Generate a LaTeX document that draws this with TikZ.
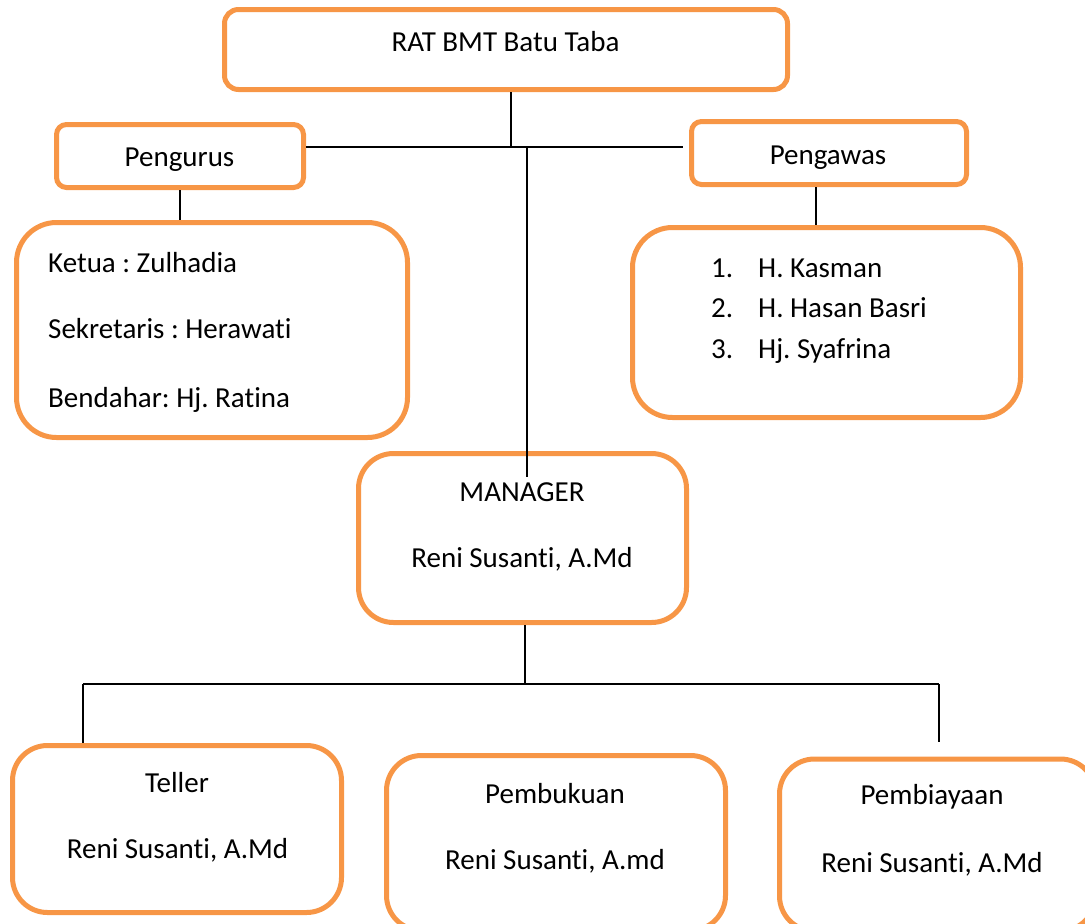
\documentclass[tikz,border=0pt]{standalone}
\usepackage{fontspec}
\setmainfont{Carlito}[Ligatures=NoCommon]
\definecolor{boxorange}{HTML}{F79646}
\frenchspacing
\begin{document}
\begin{tikzpicture}[x=1pt,y=-1pt,
  box/.style={draw=boxorange, line width=5pt, fill=white, rounded corners=#1, inner sep=0pt},
  box/.default=12pt,
  txt/.style={font=\fontsize{29}{34}\selectfont, inner sep=0pt, anchor=base},
  ltxt/.style={font=\fontsize{29}{34}\selectfont, inner sep=0pt, anchor=base west},
  conn/.style={line width=1.3pt, black},
  hconn/.style={line width=1.8pt, black}]
\useasboundingbox (0,0) rectangle (1085,924);
\clip (0,0) rectangle (1085,924);

% boxes
\node[box=14pt, minimum width=563, minimum height=80] (rat) at (506,49.5) {};
\node[box=10pt, minimum width=247, minimum height=63] (pengurus) at (180,156) {};
\node[box=10pt, minimum width=275, minimum height=63] (pengawas) at (829,153) {};
\node[box=40pt, minimum width=391, minimum height=215] (plist) at (212,330) {};
\node[box=40pt, minimum width=388, minimum height=190] (wlist) at (826.5,322.5) {};
\node[box=35pt, minimum width=328, minimum height=169] (mgr) at (522.5,538) {};
\node[box=35pt, minimum width=329, minimum height=167] (teller) at (177,829) {};
\node[box=35pt, minimum width=339, minimum height=175] (bukuan) at (556,843) {};
\node[box=35pt, minimum width=316, minimum height=172] (biaya) at (937.5,845) {};

% texts
\node[txt] (trat) at (505.5,51) {RAT BMT Batu Taba};
\node[txt] (tpengurus) at (179.5,166) {Pengurus};
\node[txt] (tpengawas) at (828,164) {Pengawas};
\node[ltxt] (tketua) at (48,272) {Ketua : Zulhadia};
\node[ltxt] (tsekr) at (48,338) {Sekretaris : Herawati};
\node[ltxt] (tbend) at (48,407) {Bendahar: Hj. Ratina};
\node[ltxt] (n1) at (711,277) {1.};
\node[ltxt] (n2) at (711,317) {2.};
\node[ltxt] (n3) at (711,358) {3.};
\node[ltxt] (w1) at (758,277) {H. Kasman};
\node[ltxt] (w2) at (758,317) {H. Hasan Basri};
\node[ltxt] (w3) at (758,358) {Hj. Syafrina};
\node[txt] (tmgr) at (522,501) {MANAGER};
\node[txt] (tmgrn) at (522,567) {Reni Susanti, A.Md};
\node[txt] (tteller) at (177,792) {Teller};
\node[txt] (ttellern) at (177.5,858) {Reni Susanti, A.Md};
\node[txt] (tbuk) at (555,803) {Pembukuan};
\node[txt] (tbukn) at (555,869) {Reni Susanti, A.md};
\node[txt] (tbia) at (932,804) {Pembiayaan};
\node[txt] (tbian) at (932,872) {Reni Susanti, A.Md};

% junctions
\coordinate (j1) at (511,147);
\coordinate (j2) at (527,147);
\coordinate (mgrin) at (527,477);
\coordinate (j3) at (525,684);
\coordinate (jl) at (83,684);
\coordinate (jr) at (939,684);
\coordinate (rend) at (939,742);

% connectors
\draw[conn] ([xshift=5pt]rat.south) -- (j1);
\draw[hconn] (pengurus.east |- j1) -- ([xshift=-6pt]pengawas.west |- j1);
\draw[conn] (j2) -- (mgrin);
\draw[conn] (pengurus.south) -- (pengurus.south |- plist.north);
\draw[conn] ([xshift=-13pt]pengawas.south) -- ([xshift=-13pt]pengawas.south |- wlist.north);
\draw[conn] ([xshift=2.5pt]mgr.south) -- (j3);
\draw[hconn] (jl) -- (jr);
\draw[conn] (jl) -- (jl |- teller.north);
\draw[conn] (jr) -- (rend);
\end{tikzpicture}
\end{document}
